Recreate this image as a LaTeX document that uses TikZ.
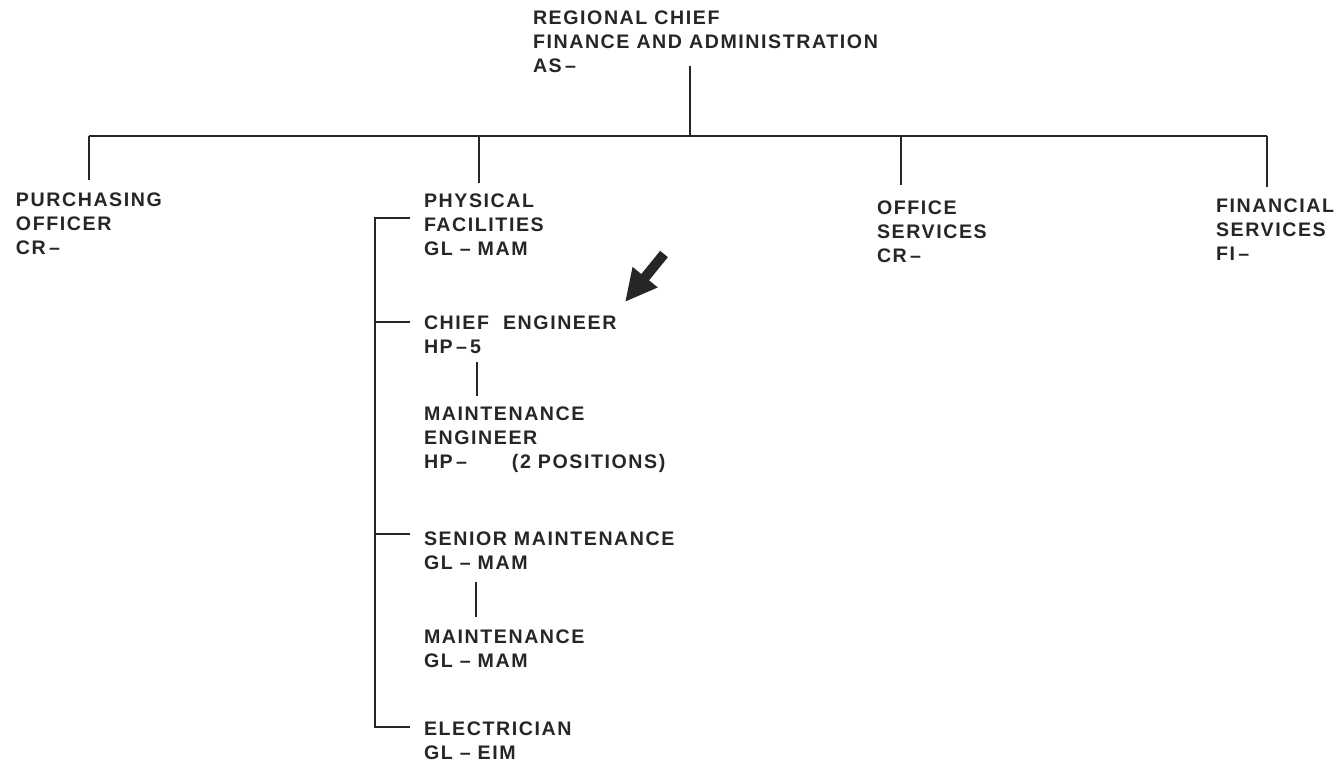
\documentclass[tikz,border=0pt]{standalone}
\usepackage{fontspec}
\setmainfont{Liberation Sans}[LetterSpace=8]
\usepackage{tikz}
\usetikzlibrary{arrows.meta}
\definecolor{ink}{gray}{0.15}

\begin{document}
\begin{tikzpicture}[x=0.5pt, y=-0.5pt, line width=1pt, color=ink,
    post/.style={anchor=north west, align=left, inner sep=0pt, font=\fontsize{9.8}{12}\selectfont\bfseries}]
    \useasboundingbox (0,0) rectangle (1336,762);

    \node[post] (rc) at (532,10) {REGIONAL CHIEF\\FINANCE AND ADMINISTRATION\\AS\,–};
    \node[post] (po) at (15,192) {PURCHASING\\OFFICER\\CR\,–};
    \node[post] (pf) at (423,193) {PHYSICAL\\FACILITIES\\GL – MAM};
    \node[post] (os) at (876,200) {OFFICE\\SERVICES\\CR\,–};
    \node[post] (fs) at (1215,198) {FINANCIAL\\SERVICES\\FI\,–};
    \node[post] (ce) at (423,315) {CHIEF\hspace{3.5pt} ENGINEER\\HP\,–\,5};
    \node[post] (me) at (423,406) {MAINTENANCE\\ENGINEER\\HP\,– \hspace{19pt}(2 POSITIONS)};
    \node[post] (sm) at (423,531) {SENIOR MAINTENANCE\\GL – MAM};
    \node[post] (mt) at (423,629) {MAINTENANCE\\GL – MAM};
    \node[post] (el) at (423,721) {ELECTRICIAN\\GL – EIM};

    \coordinate (hub) at (690,136);
    \coordinate (dpo) at (89,136);
    \coordinate (dpf) at (479,136);
    \coordinate (dos) at (901,136);
    \coordinate (dfs) at (1267,136);
    \coordinate (arrtail) at (664,254);
    \coordinate (arrtip) at (625,302);

    \draw ([yshift=4pt]rc.south -| hub) -- (hub);
    \draw (dpo) -- (dfs);
    \draw (dpo) -- ([yshift=6pt]po.north -| dpo);
    \draw (dpf) -- ([yshift=5pt]pf.north -| dpf);
    \draw (dos) -- ([yshift=7.5pt]os.north -| dos);
    \draw (dfs) -- ([yshift=5.5pt]fs.north -| dfs);
    \draw ([xshift=-6.5pt,yshift=-12.5pt]pf.north west) -| ([xshift=-24pt,yshift=-3pt]el.north west) -- ([xshift=-6.5pt,yshift=-3pt]el.north west);
    \draw ([xshift=-6.5pt,yshift=-3.25pt]ce.north west) -- ([xshift=-24pt,yshift=-3.25pt]ce.north west);
    \draw ([xshift=-6.5pt,yshift=-1.5pt]sm.north west) -- ([xshift=-24pt,yshift=-1.5pt]sm.north west);
    \draw ([xshift=27pt,yshift=-3.5pt]ce.south west) -- ([xshift=27pt,yshift=5pt]me.north west);
    \draw ([xshift=26.5pt,yshift=-5.5pt]sm.south west) -- ([xshift=26.5pt,yshift=6pt]mt.north west);
    \draw[line width=5pt, -{Triangle[length=16pt,width=15pt]}] (arrtail) -- (arrtip);
\end{tikzpicture}
\end{document}
